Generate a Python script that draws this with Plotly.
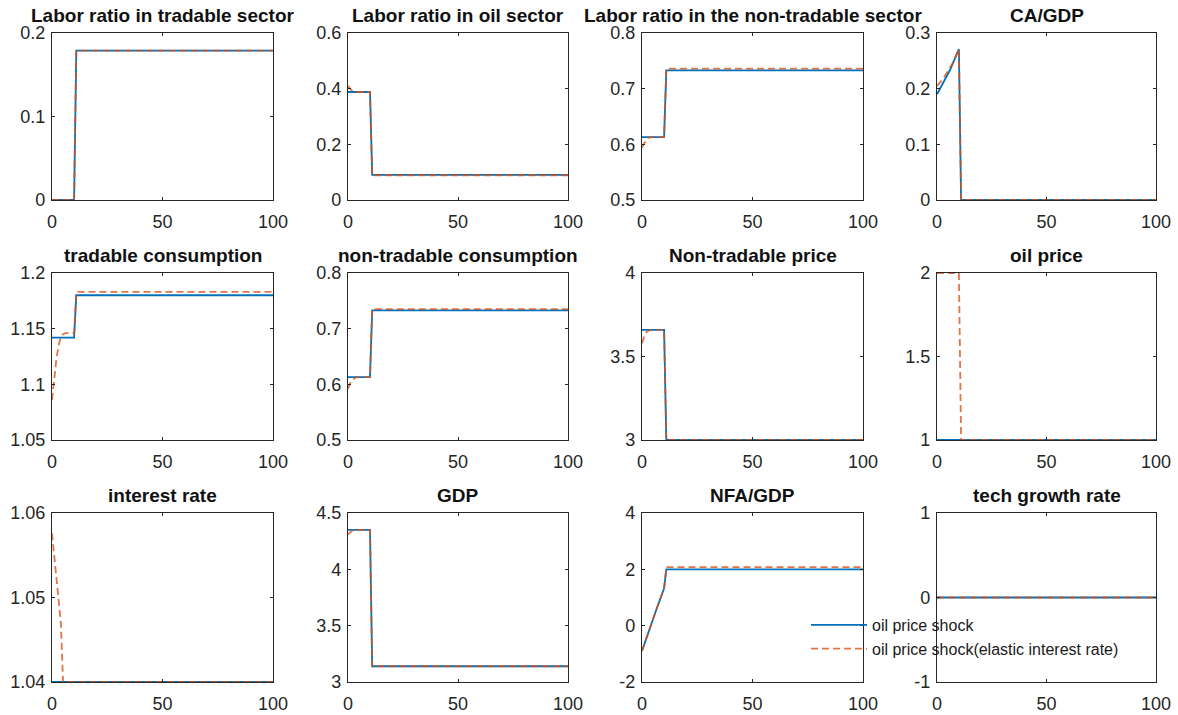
import plotly.graph_objects as go

# ---------------- data ----------------
t = [0, 1, 2, 3, 4, 5, 6, 7, 8, 9, 10, 11, 100]

lab_trad_base = [0, 0, 0, 0, 0, 0, 0, 0, 0, 0, 0, 0.179, 0.179]
lab_trad_elas = [0, 0, 0, 0, 0, 0, 0, 0, 0, 0, 0, 0.179, 0.179]

lab_oil_base = [0.388, 0.388, 0.388, 0.388, 0.388, 0.388, 0.388, 0.388, 0.388, 0.388, 0.388, 0.09, 0.09]
lab_oil_elas = [0.41, 0.398, 0.39, 0.388, 0.388, 0.388, 0.388, 0.388, 0.388, 0.388, 0.388, 0.089, 0.089]

lab_nt_base = [0.613, 0.613, 0.613, 0.613, 0.613, 0.613, 0.613, 0.613, 0.613, 0.613, 0.613, 0.733, 0.733]
lab_nt_elas = [0.594, 0.603, 0.609, 0.612, 0.613, 0.613, 0.613, 0.613, 0.613, 0.613, 0.613, 0.736, 0.736]

ca_gdp_base = [0.19, 0.197, 0.204, 0.211, 0.218, 0.226, 0.234, 0.243, 0.252, 0.261, 0.271, 0, 0]
ca_gdp_elas = [0.205, 0.209, 0.214, 0.219, 0.225, 0.231, 0.238, 0.245, 0.253, 0.261, 0.271, 0, 0]

c_trad_base = [1.142, 1.142, 1.142, 1.142, 1.142, 1.142, 1.142, 1.142, 1.142, 1.142, 1.142, 1.18, 1.18]
c_trad_elas = [1.086, 1.106, 1.123, 1.135, 1.143, 1.145, 1.146, 1.146, 1.146, 1.146, 1.146, 1.183, 1.183]

c_nt_base = [0.613, 0.613, 0.613, 0.613, 0.613, 0.613, 0.613, 0.613, 0.613, 0.613, 0.613, 0.733, 0.733]
c_nt_elas = [0.592, 0.602, 0.608, 0.611, 0.613, 0.613, 0.613, 0.613, 0.613, 0.613, 0.613, 0.735, 0.735]

p_nt_base = [3.659, 3.659, 3.659, 3.659, 3.659, 3.659, 3.659, 3.659, 3.659, 3.659, 3.659, 3.0, 3.0]
p_nt_elas = [3.58, 3.62, 3.645, 3.656, 3.659, 3.659, 3.659, 3.659, 3.659, 3.659, 3.659, 3.0, 3.0]

oil_p_base = [1, 1, 1, 1, 1, 1, 1, 1, 1, 1, 1, 1, 1]
oil_p_elas = [2, 2, 2, 2, 2, 2, 2, 2, 2, 2, 2, 1, 1]

r_base = [1.04, 1.04, 1.04, 1.04, 1.04, 1.04, 1.04, 1.04, 1.04, 1.04, 1.04, 1.04, 1.04]
r_elas = [1.0576, 1.055, 1.0523, 1.0497, 1.047, 1.04, 1.04, 1.04, 1.04, 1.04, 1.04, 1.04, 1.04]

gdp_base = [4.35, 4.35, 4.35, 4.35, 4.35, 4.35, 4.35, 4.35, 4.35, 4.35, 4.35, 3.14, 3.14]
gdp_elas = [4.31, 4.33, 4.345, 4.35, 4.35, 4.35, 4.35, 4.35, 4.35, 4.35, 4.35, 3.14, 3.14]

nfa_base = [-0.9, -0.66, -0.42, -0.19, 0.03, 0.25, 0.46, 0.68, 0.9, 1.11, 1.33, 2.0, 2.0]
nfa_elas = [-0.9, -0.66, -0.42, -0.19, 0.03, 0.25, 0.46, 0.68, 0.9, 1.11, 1.33, 2.08, 2.08]

tech_base = [0, 0, 0, 0, 0, 0, 0, 0, 0, 0, 0, 0, 0]
tech_elas = [0, 0, 0, 0, 0, 0, 0, 0, 0, 0, 0, 0, 0]

titles = ["Labor ratio in tradable sector", "Labor ratio in oil sector",
          "Labor ratio in the non-tradable sector", "CA/GDP",
          "tradable consumption", "non-tradable consumption",
          "Non-tradable price", "oil price",
          "interest rate", "GDP", "NFA/GDP", "tech growth rate"]

base_series = [lab_trad_base, lab_oil_base, lab_nt_base, ca_gdp_base,
               c_trad_base, c_nt_base, p_nt_base, oil_p_base,
               r_base, gdp_base, nfa_base, tech_base]
elas_series = [lab_trad_elas, lab_oil_elas, lab_nt_elas, ca_gdp_elas,
               c_trad_elas, c_nt_elas, p_nt_elas, oil_p_elas,
               r_elas, gdp_elas, nfa_elas, tech_elas]

y_ranges = [[0, 0.2], [0, 0.6], [0.5, 0.8], [0, 0.3],
            [1.05, 1.2], [0.5, 0.8], [3, 4], [1, 2],
            [1.04, 1.06], [3, 4.5], [-2, 4], [-1, 1]]
y_ticks = [[0, 0.1, 0.2], [0, 0.2, 0.4, 0.6], [0.5, 0.6, 0.7, 0.8], [0, 0.1, 0.2, 0.3],
           [1.05, 1.1, 1.15, 1.2], [0.5, 0.6, 0.7, 0.8], [3, 3.5, 4], [1, 1.5, 2],
           [1.04, 1.05, 1.06], [3, 3.5, 4, 4.5], [-2, 0, 2, 4], [-1, 0, 1]]
y_ticktext = [["0", "0.1", "0.2"], ["0", "0.2", "0.4", "0.6"], ["0.5", "0.6", "0.7", "0.8"],
              ["0", "0.1", "0.2", "0.3"], ["1.05", "1.1", "1.15", "1.2"],
              ["0.5", "0.6", "0.7", "0.8"], ["3", "3.5", "4"], ["1", "1.5", "2"],
              ["1.04", "1.05", "1.06"], ["3", "3.5", "4", "4.5"], ["-2", "0", "2", "4"],
              ["-1", "0", "1"]]
x_ticks = [0, 50, 100]
legend_names = ["oil price shock", "oil price shock(elastic interest rate)"]

# ---------------- layout geometry ----------------
W, H = 1178, 715
col_px = [(52, 273), (348, 568), (642, 863), (937, 1156)]
row_px = [(33, 200), (273, 440), (513, 682)]

BLUE = "#0072BD"
ORANGE = "#D95319"
AX = "#262626"
FONT = "Liberation Sans, Arial, sans-serif"


def fx(px):
    return px / W


def fy(py):
    return 1 - py / H


fig = go.Figure()
layout = dict(
    template="none",
    width=W, height=H, margin=dict(l=0, r=0, t=0, b=0, autoexpand=False),
    paper_bgcolor="white", plot_bgcolor="white",
    font=dict(family=FONT, size=18, color=AX),
    showlegend=True,
    legend=dict(x=fx(806), y=fy(608), xanchor="left", yanchor="top",
                bgcolor="rgba(0,0,0,0)", borderwidth=0,
                font=dict(family=FONT, size=16, color="#1a1a1a"),
                itemwidth=56, traceorder="grouped", tracegroupgap=0),
)
annotations = []

for i in range(12):
    r, c = divmod(i, 4)
    n = i + 1
    xa = "x" if n == 1 else f"x{n}"
    ya = "y" if n == 1 else f"y{n}"
    x0, x1 = col_px[c]
    y0, y1 = row_px[r]
    show_leg = (i == 11)
    fig.add_trace(go.Scatter(x=t, y=base_series[i], mode="lines", xaxis=xa, yaxis=ya,
                             line=dict(color=BLUE, width=1.8), name=legend_names[0],
                             legendgroup="a", showlegend=show_leg))
    fig.add_trace(go.Scatter(x=t, y=elas_series[i], mode="lines", xaxis=xa, yaxis=ya,
                             line=dict(color=ORANGE, width=1.8, dash="7px,4px"),
                             opacity=0.8, name=legend_names[1],
                             legendgroup="b", showlegend=show_leg))
    common = dict(showline=True, linecolor=AX, linewidth=1.4, mirror="ticks",
                  ticks="inside", ticklen=3, tickwidth=1.2, tickcolor=AX,
                  showgrid=False, zeroline=False, fixedrange=True, automargin=False,
                  tickfont=dict(family=FONT, size=18, color=AX))
    layout["xaxis" if n == 1 else f"xaxis{n}"] = dict(
        domain=[fx(x0), fx(x1)], range=[0, 100], tickvals=x_ticks,
        ticktext=[str(v) for v in x_ticks], anchor=ya, ticklabelstandoff=5, **common)
    layout["yaxis" if n == 1 else f"yaxis{n}"] = dict(
        domain=[fy(y1), fy(y0)], range=y_ranges[i], tickvals=y_ticks[i],
        ticktext=y_ticktext[i], anchor=xa, ticklabelstandoff=2, **common)
    annotations.append(dict(text=f"<b>{titles[i]}</b>", xref="paper", yref="paper",
                            x=(fx(x0) + fx(x1)) / 2, y=fy(y0), xanchor="center",
                            yanchor="bottom", yshift=5, showarrow=False,
                            font=dict(family=FONT, size=19, color="#111111")))

layout["annotations"] = annotations
fig.update_layout(**layout)
fig.write_html("out.html", config={"displayModeBar": False},
               post_script="document.body.style.margin='0';"
                           "document.body.style.overflow='hidden';")
